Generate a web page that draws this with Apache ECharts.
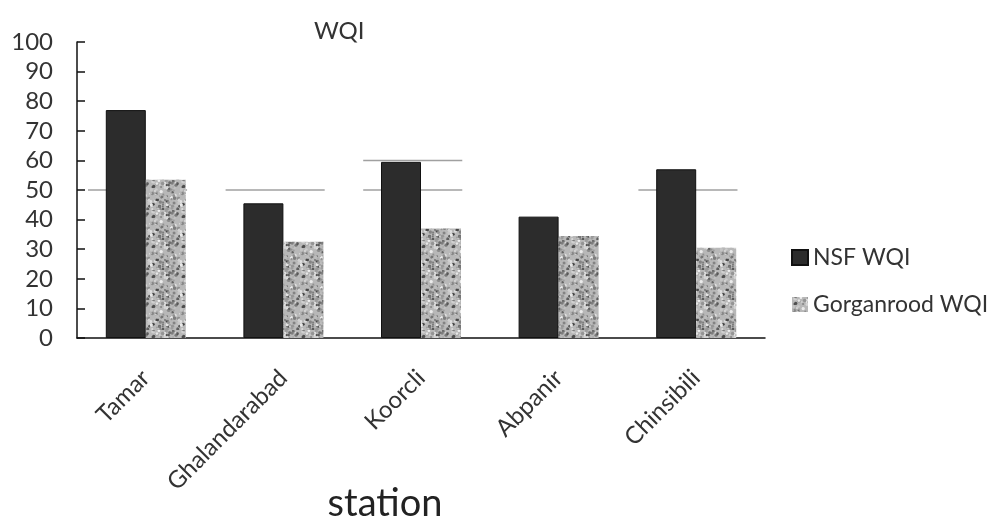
<!DOCTYPE html>
<html>
<head>
<meta charset="utf-8">
<script src="https://cdn.jsdelivr.net/npm/echarts@6/dist/echarts.min.js"></script>
<style>
html,body{margin:0;padding:0;background:#fff;}
#chart{width:999px;height:518px;}
</style>
</head>
<body>
<div id="chart"></div>
<script>
const stations = ['Tamar', 'Ghalandarabad', 'Koorcli', 'Abpanir', 'Chinsibili'];
const nsfWQI = [77, 45.5, 59.5, 41, 57];
const gorganroodWQI = [53.5, 32.5, 37, 34.5, 30.5];
const yTicks = [0, 10, 20, 30, 40, 50, 60, 70, 80, 90, 100];
const refStations = ['Tamar', 'Ghalandarabad', 'Koorcli', 'Koorcli', 'Chinsibili'];
const refValues = [50, 50, 50, 60, 50];

function makePattern() {
  const c = document.createElement('canvas');
  c.width = 30; c.height = 30;
  const ctx = c.getContext('2d');
  ctx.fillStyle = '#b8b8b8';
  ctx.fillRect(0, 0, 30, 30);
  for (let i = 0; i < 120; i++) {
    const h = Math.abs(Math.sin(i * 12.9898 + 4.1) * 43758.5453);
    const x = (h % 1) * 30;
    const y = ((h * 7.13) % 1) * 30;
    const shade = 70 + Math.floor(((h * 3.7) % 1) * 170);
    ctx.fillStyle = 'rgb(' + shade + ',' + shade + ',' + shade + ')';
    ctx.beginPath();
    ctx.arc(x, y, 0.8 + ((h * 11.3) % 1) * 1.1, 0, Math.PI * 2);
    ctx.fill();
  }
  return c;
}

const chart = echarts.init(document.getElementById('chart'));
const refData = refStations.map((s, i) => [stations.indexOf(s), refValues[i]]);
const font = 'Lato, "Open Sans", sans-serif';

chart.setOption({
  animation: false,
  backgroundColor: '#fff',
  textStyle: { fontFamily: font },
  title: {
    text: 'WQI',
    left: 309,
    top: 14,
    textStyle: { fontSize: 24, fontWeight: 'normal', color: '#333', fontFamily: font }
  },
  legend: {
    orient: 'vertical',
    left: 786,
    top: 241,
    icon: 'rect',
    itemWidth: 16,
    itemHeight: 15,
    itemGap: 24,
    data: ['NSF WQI', 'Gorganrood WQI'],
    textStyle: { fontSize: 23, color: '#333', fontFamily: font }
  },
  grid: { left: 77, right: 234, top: 42, bottom: 180, outerBoundsMode: 'none', containLabel: false },
  xAxis: {
    type: 'category',
    data: stations,
    name: 'station',
    nameLocation: 'middle',
    nameGap: 147,
    nameMoveOverlap: false,
    nameTextStyle: { fontSize: 38, color: '#222', fontFamily: font, padding: [0, 72, 0, 0] },
    axisLine: { lineStyle: { color: '#111', width: 1.5 } },
    axisTick: { inside: true, length: 9, lineStyle: { color: '#111', width: 1.5 } },
    axisLabel: { rotate: 45, margin: 36, fontSize: 24, color: '#333', fontFamily: font, interval: 0 },
    splitLine: { show: false }
  },
  yAxis: {
    type: 'value',
    min: 0,
    max: 100,
    interval: 10,
    axisLine: { show: true, lineStyle: { color: '#111', width: 1.5 } },
    axisTick: { show: true, inside: true, length: 8, lineStyle: { color: '#111', width: 1.5 } },
    axisLabel: {
      fontSize: 24, color: '#333', margin: 24, fontFamily: font,
      formatter: v => (yTicks.indexOf(v) >= 0 ? String(v) : '')
    },
    splitLine: { show: false }
  },
  series: [
    {
      type: 'custom',
      name: 'standard',
      z: 1,
      silent: true,
      data: refData,
      renderItem: function (params, api) {
        const p = api.coord([api.value(0), api.value(1)]);
        const band = api.size([1, 0])[0];
        return {
          type: 'line',
          shape: { x1: p[0] - band * 0.42, y1: p[1], x2: p[0] + band * 0.3, y2: p[1] },
          style: { stroke: '#a0a0a0', lineWidth: 1.5 }
        };
      }
    },
    {
      type: 'bar',
      name: 'NSF WQI',
      z: 3,
      data: nsfWQI,
      barWidth: 40,
      barGap: '0%',
      itemStyle: { color: '#2c2c2c', borderColor: '#111', borderWidth: 1 }
    },
    {
      type: 'bar',
      name: 'Gorganrood WQI',
      z: 3,
      data: gorganroodWQI,
      barWidth: 40,
      barGap: '0%',
      itemStyle: { color: { image: makePattern(), repeat: 'repeat' } }
    }
  ]
});
</script>
</body>
</html>
